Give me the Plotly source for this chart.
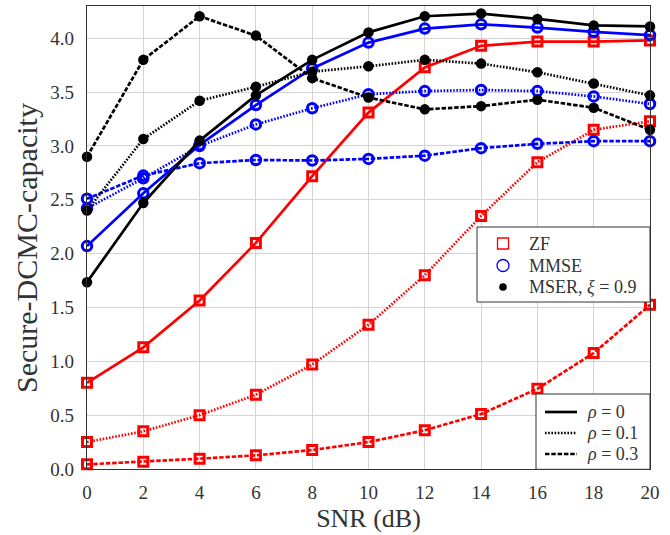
import plotly.graph_objects as go

snr = [0, 2, 4, 6, 8, 10, 12, 14, 16, 18, 20]

zf_rho0 = [0.80, 1.13, 1.565, 2.10, 2.72, 3.31, 3.73, 3.93, 3.97, 3.97, 3.98]
zf_rho01 = [0.25, 0.35, 0.50, 0.69, 0.97, 1.34, 1.80, 2.35, 2.85, 3.15, 3.23]
zf_rho03 = [0.043, 0.068, 0.096, 0.127, 0.176, 0.25, 0.36, 0.51, 0.745, 1.077, 1.525]

mmse_rho0 = [2.07, 2.56, 3.01, 3.38, 3.72, 3.96, 4.09, 4.13, 4.10, 4.06, 4.03]
mmse_rho01 = [2.42, 2.70, 3.00, 3.20, 3.35, 3.48, 3.51, 3.52, 3.51, 3.46, 3.39]
mmse_rho03 = [2.51, 2.725, 2.84, 2.87, 2.865, 2.88, 2.91, 2.98, 3.02, 3.045, 3.045]

mser_rho0 = [1.735, 2.47, 3.05, 3.47, 3.80, 4.055, 4.205, 4.23, 4.18, 4.12, 4.11]
mser_rho01 = [2.40, 3.065, 3.42, 3.55, 3.69, 3.74, 3.80, 3.765, 3.685, 3.58, 3.47]
mser_rho03 = [2.90, 3.80, 4.205, 4.025, 3.63, 3.45, 3.34, 3.37, 3.43, 3.355, 3.15]

x_ticks = [0, 2, 4, 6, 8, 10, 12, 14, 16, 18, 20]
y_ticks = [0.0, 0.5, 1.0, 1.5, 2.0, 2.5, 3.0, 3.5, 4.0]

scheme_names = ["ZF", "MMSE", "MSER, <i>ξ</i> = 0.9"]
rho_names = ["<i>ρ</i> = 0", "<i>ρ</i> = 0.1", "<i>ρ</i> = 0.3"]

FONT = "Liberation Serif"
TXT = "#333333"
dashes = ["solid", "1.6px,1.6px", "4.5px,1.8px"]

W, H = 670, 535
ML, MR, MT, MB = 87, 20, 6, 66
PW, PH = W - ML - MR, H - MT - MB


def px(x):
    return (x - ML) / PW


def py(y):
    return (H - MB - y) / PH


schemes = [
    ("#ff0000", "square-open", 9, 3, [zf_rho0, zf_rho01, zf_rho03]),
    ("#0000ff", "circle-open", 9.5, 3, [mmse_rho0, mmse_rho01, mmse_rho03]),
    ("#000000", "circle", 10.5, 0, [mser_rho0, mser_rho01, mser_rho03]),
]

fig = go.Figure()
for color, sym, size, lw, series in schemes:
    for ys, dash in zip(series, dashes):
        fig.add_trace(go.Scatter(
            x=snr, y=ys, mode="lines+markers",
            line=dict(color=color, width=2.7, dash=dash),
            marker=dict(symbol=sym, size=size, color=color,
                        line=dict(width=lw, color=color)),
            cliponaxis=False, showlegend=False,
        ))

shapes = []
annotations = []
LEG_FONT = dict(family=FONT, size=18, color=TXT)

# ---- legend 1: schemes ----
shapes.append(dict(type="rect", xref="paper", yref="paper",
                   x0=px(477), x1=px(650), y0=py(302), y1=py(227),
                   fillcolor="white", line=dict(color="#333333", width=1)))
rows1 = [243.5, 265.5, 287]
sx = px(503)
shapes.append(dict(type="rect", xref="paper", yref="paper", xsizemode="pixel", ysizemode="pixel",
                   xanchor=sx, yanchor=py(rows1[0]), x0=-5.5, x1=5.5, y0=-5.5, y1=5.5,
                   fillcolor="rgba(0,0,0,0)", line=dict(color="#ff0000", width=1.3)))
shapes.append(dict(type="circle", xref="paper", yref="paper", xsizemode="pixel", ysizemode="pixel",
                   xanchor=sx, yanchor=py(rows1[1]), x0=-6, x1=6, y0=-6, y1=6,
                   fillcolor="rgba(0,0,0,0)", line=dict(color="#0000ff", width=1.3)))
shapes.append(dict(type="circle", xref="paper", yref="paper", xsizemode="pixel", ysizemode="pixel",
                   xanchor=sx, yanchor=py(rows1[2]), x0=-3.8, x1=3.8, y0=-3.8, y1=3.8,
                   fillcolor="black", line=dict(color="black", width=0)))
for name, ry in zip(scheme_names, rows1):
    annotations.append(dict(xref="paper", yref="paper", x=px(527), y=py(ry),
                            xanchor="left", yanchor="middle", text=name,
                            showarrow=False, font=LEG_FONT))

# ---- legend 2: rho ----
shapes.append(dict(type="rect", xref="paper", yref="paper",
                   x0=px(536), x1=px(650), y0=py(469.3), y1=py(394),
                   fillcolor="white", line=dict(color="#333333", width=1)))
rows2 = [412, 433, 454]
for name, ry, dash in zip(rho_names, rows2, dashes):
    shapes.append(dict(type="line", xref="paper", yref="paper",
                       x0=px(545), x1=px(577), y0=py(ry), y1=py(ry),
                       line=dict(color="black", width=2.7, dash=dash)))
    annotations.append(dict(xref="paper", yref="paper", x=px(585), y=py(ry),
                            xanchor="left", yanchor="middle", text=name,
                            showarrow=False, font=LEG_FONT))

# y-axis title
annotations.append(dict(xref="paper", yref="paper", x=px(27), y=py(248),
                        xanchor="center", yanchor="middle", textangle=-90,
                        text="Secure-DCMC-capacity", showarrow=False,
                        font=dict(family=FONT, size=30, color=TXT)))

axis_common = dict(
    showgrid=True, gridcolor="#d4d4d4", gridwidth=1.3,
    showline=True, mirror=True, linecolor="#333333", linewidth=1.3,
    zeroline=False, ticks="", automargin=False,
    tickfont=dict(family=FONT, size=19, color=TXT),
)

fig.update_layout(
    width=W, height=H,
    margin=dict(l=ML, r=MR, t=MT, b=MB),
    paper_bgcolor="white", plot_bgcolor="white",
    font=dict(family=FONT, color=TXT),
    showlegend=False,
    xaxis=dict(range=[0, 20], tickvals=x_ticks, ticktext=[str(v) for v in x_ticks],
               title=dict(text="SNR (dB)", font=dict(family=FONT, size=26, color=TXT), standoff=6),
               ticklabelstandoff=6, **axis_common),
    yaxis=dict(range=[0, 4.3], tickvals=y_ticks, ticktext=[f"{v:.1f}" for v in y_ticks],
               ticklabelstandoff=8, **axis_common),
    shapes=shapes,
    annotations=annotations,
)

fig.write_html("out.html", config={"displayModeBar": False},
               post_script="document.body.style.margin='0px';")
